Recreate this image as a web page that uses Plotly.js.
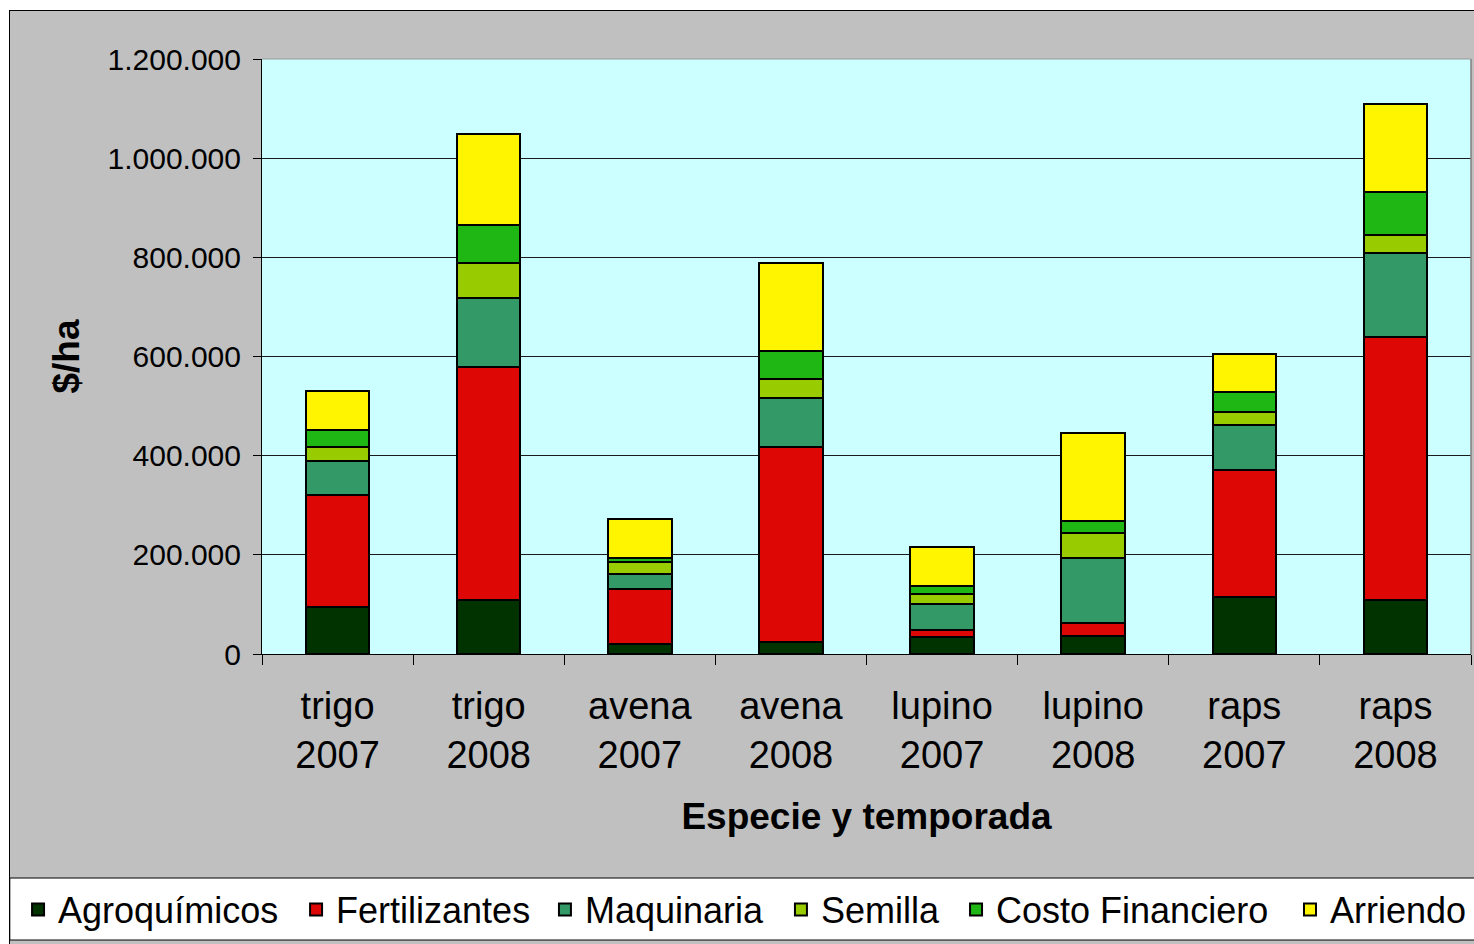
<!DOCTYPE html>
<html>
<head>
<meta charset="utf-8">
<script src="https://cdn.plot.ly/plotly-3.0.1.min.js"></script>
<style>
  html, body { margin: 0; padding: 0; background: #ffffff; width: 1474px; height: 944px; overflow: hidden; }
  #wrap { position: absolute; left: 9px; top: 10px; width: 1465px; height: 934px;
          border-left: 1px solid #000; border-top: 1px solid #000; background: #C0C0C0; overflow: hidden; }
  #chart { position: absolute; left: 0; top: 0; width: 1464px; height: 933px; }
</style>
</head>
<body>
<div id="wrap"><div id="chart"></div></div>
<script>
// Categories (species and season)
const categories = ['trigo<br>2007', 'trigo<br>2008', 'avena<br>2007', 'avena<br>2008',
                    'lupino<br>2007', 'lupino<br>2008', 'raps<br>2007', 'raps<br>2008'];

// Cost components ($/ha)
const agroquimicos     = [95000, 109000, 20000, 24000, 34000, 37000, 114000, 109000];
const fertilizantes    = [225000, 469000, 112000, 394000, 14000, 25000, 258000, 530000];
const maquinaria       = [70000, 141000, 29000, 99000, 52000, 132000, 89000, 170000];
const semilla          = [28000, 70000, 24000, 38000, 22000, 51000, 28000, 37000];
const costoFinanciero  = [33000, 76000, 8000, 57000, 15000, 23000, 39000, 86000];
const arriendo         = [79000, 184000, 79000, 177000, 79000, 178000, 78000, 177000];

const seriesNames  = ['Agroquímicos', 'Fertilizantes', 'Maquinaria', 'Semilla', 'Costo Financiero', 'Arriendo'];
const seriesValues = [agroquimicos, fertilizantes, maquinaria, semilla, costoFinanciero, arriendo];
const seriesColors = ['#003300', '#DD0806', '#339966', '#99CC00', '#1FB714', '#FFF500'];

const yTicks = [0, 200000, 400000, 600000, 800000, 1000000, 1200000];

const FONT = 'Liberation Sans, Arial, sans-serif';
const legendIds = ['legend', 'legend2', 'legend3', 'legend4', 'legend5', 'legend6'];
const legendX = [0.0055, 0.1954, 0.3654, 0.5266, 0.6462, 0.8743];

const traces = seriesNames.map((name, i) => ({
  type: 'bar',
  name: name,
  x: categories,
  y: seriesValues[i],
  legend: legendIds[i],
  marker: { color: seriesColors[i], line: { color: '#000000', width: 2 } },
  hoverinfo: 'skip'
}));

const layout = {
  width: 1464,
  height: 933,
  margin: { l: 252, r: 3, t: 48, b: 290 },
  paper_bgcolor: '#C0C0C0',
  plot_bgcolor: '#CCFFFF',
  barmode: 'stack',
  bargap: 0.58,
  separators: ',.',
  font: { family: FONT, color: '#000000' },
  showlegend: true,
  xaxis: {
    type: 'category',
    tickfont: { family: FONT, size: 38, color: '#000000' },
    ticks: 'outside',
    tickson: 'boundaries',
    ticklen: 10,
    tickcolor: '#000000',
    tickwidth: 1,
    ticklabelstandoff: 18,
    showline: true,
    linecolor: '#000000',
    linewidth: 1,
    showgrid: false,
    title: { text: '<b>Especie y temporada</b>', font: { family: FONT, size: 37, color: '#000000' }, standoff: 28 }
  },
  yaxis: {
    range: [0, 1200000],
    tickvals: yTicks,
    tickformat: ',d',
    tickfont: { family: FONT, size: 30, color: '#000000' },
    ticks: 'outside',
    ticklen: 8,
    tickcolor: '#000000',
    tickwidth: 1,
    ticklabelstandoff: 6,
    showline: true,
    linecolor: '#000000',
    linewidth: 1,
    showgrid: true,
    gridcolor: '#1a1a1a',
    gridwidth: 1,
    zeroline: false,
    title: { text: '<b>$/ha</b>', font: { family: FONT, size: 37, color: '#000000' }, standoff: 16 }
  },
  shapes: [
    { type: 'line', xref: 'paper', yref: 'paper', x0: 1, x1: 1, y0: 0, y1: 1,
      line: { color: '#808080', width: 1.5 } },
    { type: 'line', xref: 'paper', yref: 'paper', x0: 0, x1: 1, y0: 1, y1: 1,
      line: { color: '#9a9a9a', width: 1 } },
    { type: 'rect', xref: 'paper', yref: 'paper',
      x0: -0.2086, x1: 1.01, y0: -0.3765, y1: -0.4807,
      fillcolor: '#FFFFFF', line: { color: '#000000', width: 1 }, layer: 'below' }
  ]
};

legendIds.forEach((id, i) => {
  layout[id] = {
    orientation: 'h',
    xref: 'container', yref: 'container',
    x: legendX[i], xanchor: 'left',
    y: 0.037, yanchor: 'middle',
    bgcolor: 'rgba(0,0,0,0)',
    borderwidth: 0,
    font: { family: FONT, size: 36, color: '#000000' }
  };
});

Plotly.newPlot('chart', traces, layout, { displayModeBar: false, staticPlot: true });
</script>
</body>
</html>
